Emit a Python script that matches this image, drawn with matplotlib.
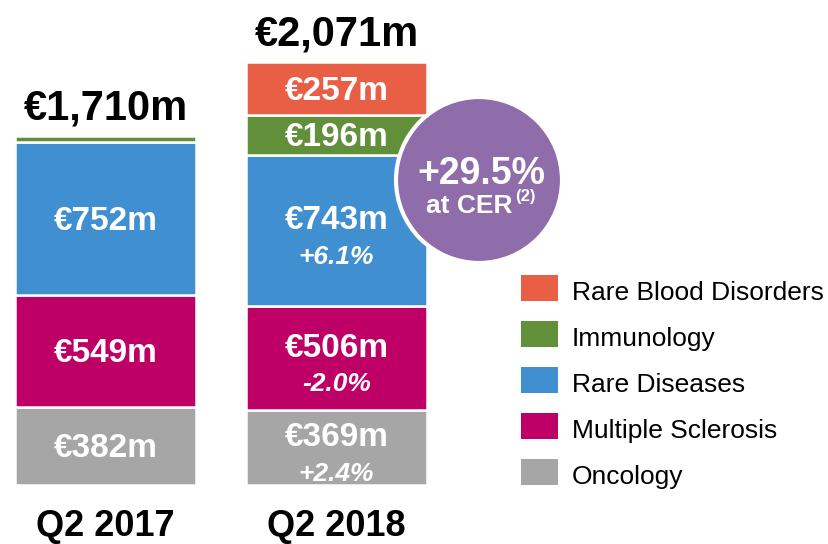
import numpy as np
import matplotlib
matplotlib.use("Agg")
from matplotlib import pyplot as plt
from matplotlib.patches import Circle, Rectangle

plt.rcParams["font.family"] = ["Liberation Sans", "DejaVu Sans"]

periods = ["Q2 2017", "Q2 2018"]
segments = ["Oncology", "Multiple Sclerosis", "Rare Diseases", "Immunology", "Rare Blood Disorders"]
values_2017 = [382, 549, 752, 27, 0]
values_2018 = [369, 506, 743, 196, 257]
growth_2018 = ["+2.4%", "-2.0%", "+6.1%", None, None]
totals = ["€1,710m", "€2,071m"]
headline = "+29.5%"
colors = ["#A6A6A6", "#BE0066", "#3F8FD1", "#62903A", "#E85F45"]

fig = plt.figure(figsize=(8.29, 5.44), dpi=100, facecolor="white")
ax = fig.add_axes([0, 0, 1, 1])
ax.set_xlim(0, 829)
ax.set_ylim(-289, 2377)
ax.axis("off")

centers = [105.5, 336.5]
width = 181
data = [values_2017, values_2018]
growth = [[None] * 5, growth_2018]

for i, vals in enumerate(data):
    bottom = 0
    for j, v in enumerate(vals):
        if v <= 0:
            continue
        ax.bar(centers[i], v, width=width, bottom=bottom, color=colors[j],
               edgecolor="white", linewidth=1.8)
        mid = bottom + v / 2
        if v >= 100:
            g = growth[i][j]
            dy = 7 if g else -2
            ax.annotate("€%dm" % v, (centers[i], mid), xytext=(0, dy), textcoords="offset points",
                        ha="center", va="center", fontsize=24, fontweight="bold", color="white")
            if g:
                ax.annotate(g, (centers[i], mid), xytext=(0, -19), textcoords="offset points",
                            ha="center", va="center", fontsize=19, fontweight="bold",
                            fontstyle="italic", color="white")
        bottom += v
    ax.annotate(totals[i], (centers[i], bottom), xytext=(0, 12), textcoords="offset points",
                ha="center", va="baseline", fontsize=30, fontweight="bold", color="black")
    ax.annotate(periods[i], (centers[i], 0), xytext=(0, -30), textcoords="offset points",
                ha="center", va="center", fontsize=26, fontweight="bold", color="black")

# overlay in pixel units for the growth bubble and legend
ov = fig.add_axes([0, 0, 1, 1])
ov.set_xlim(0, 829)
ov.set_ylim(544, 0)
ov.axis("off")
ov.patch.set_alpha(0)

ov.add_patch(Circle((479, 180), 83, facecolor="#8F6DAB", edgecolor="white", linewidth=3))
ov.text(481, 184, headline, ha="center", va="baseline", fontsize=27, fontweight="bold", color="white")
ov.text(513, 213, "at CER", ha="right", va="baseline", fontsize=19, fontweight="bold", color="white")
ov.text(515, 201, "(2)", ha="left", va="baseline", fontsize=12, fontweight="bold", color="white")

legend_order = list(range(len(segments)))[::-1]
for k, j in enumerate(legend_order):
    yc = 288 + k * 46
    ov.add_patch(Rectangle((521, yc - 13), 37, 26, facecolor=colors[j], edgecolor="none"))
    ov.text(572, yc + 12, segments[j], ha="left", va="baseline", fontsize=19, color="black")

fig.savefig("out.png", dpi=100, facecolor="white")
